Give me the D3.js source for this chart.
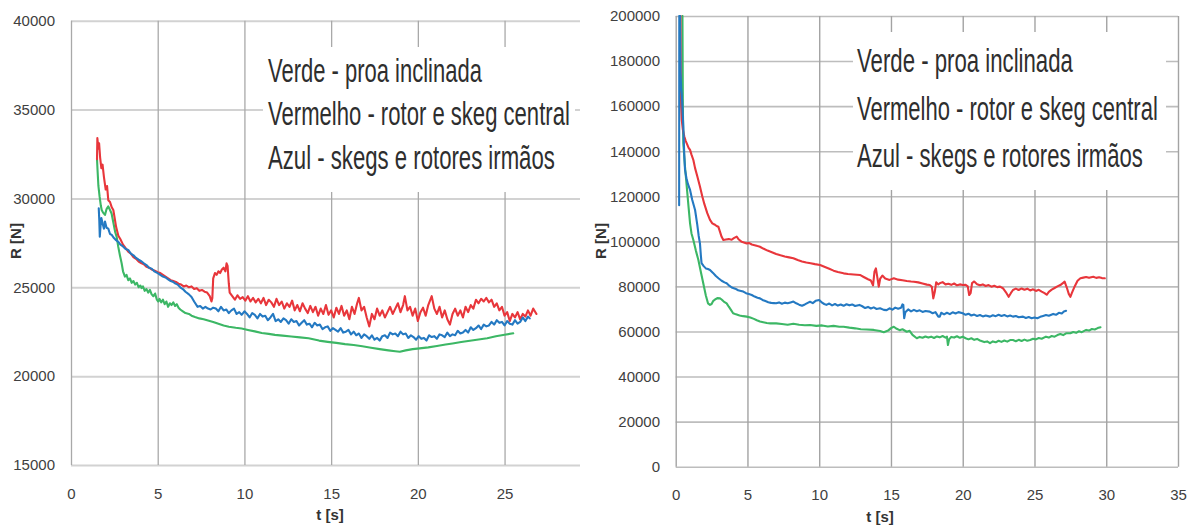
<!DOCTYPE html>
<html>
<head>
<meta charset="utf-8">
<script src="https://cdn.jsdelivr.net/npm/d3@7"></script>
<style>
  html, body { margin: 0; padding: 0; background: #fff; }
  svg { display: block; }
  text { font-family: "Liberation Sans", Arial, sans-serif; }
</style>
</head>
<body>
<svg id="chart" width="1192" height="529"></svg>
<script>
// ---------- tick values ----------
const leftXTicks = [0, 5, 10, 15, 20, 25];
const leftYTicks = [15000, 20000, 25000, 30000, 35000, 40000];
const rightXTicks = [0, 5, 10, 15, 20, 25, 30, 35];
const rightYTicks = [0, 20000, 40000, 60000, 80000, 100000, 120000, 140000, 160000, 180000, 200000];

// ---------- legend text ----------
const legendLines = [
  "Verde - proa inclinada",
  "Vermelho - rotor e skeg central",
  "Azul - skegs e rotores irmãos"
];
const xTitle = "t [s]";
const yTitle = "R [N]";

// ---------- left panel: resistance R [N] vs time t [s] ----------
const leftGreen = [
  [1.50,32200],[1.53,31600],[1.58,30700],[1.65,30100],[1.72,29600],[1.77,29350],[1.85,29200],[1.96,29070],
  [2.05,29400],[2.15,29550],[2.25,29350],[2.34,29150],[2.45,28600],[2.55,28100],[2.63,27850],[2.72,27300],
  [2.82,26800],[2.92,26350],[3.00,25900],[3.11,25600],[3.20,25700],[3.30,25400],[3.40,25500],[3.50,25250],
  [3.60,25350],[3.70,25150],[3.80,25250],[3.90,25000],[4.00,25100],[4.07,24950],[4.15,25050],[4.25,24800],
  [4.35,24900],[4.45,24700],[4.55,24850],[4.65,24600],[4.75,24500],[4.85,24650],[4.95,24300],[5.03,24200],
  [5.10,24350],[5.20,24150],[5.30,24300],[5.40,24050],[5.50,24200],[5.60,23900],[5.70,24100],[5.80,24000],
  [5.90,24150],[6.00,23950],[6.10,24050],[6.20,23850],[6.30,23750],[6.45,23650],[6.60,23550],[6.80,23500],
  [6.95,23400],[7.15,23330],[7.40,23250],[7.65,23200],[7.90,23130],[8.20,23050],[8.50,22950],[8.80,22850],
  [9.10,22780],[9.50,22720],[9.84,22680],[10.2,22600],[10.6,22520],[11.0,22430],[11.4,22380],[11.76,22320],
  [12.2,22280],[12.7,22230],[13.2,22180],[13.7,22130],[14.3,22000],[14.8,21930],[15.3,21870],[15.8,21800],
  [16.3,21750],[16.8,21680],[17.3,21600],[17.8,21520],[18.3,21450],[18.7,21400],[18.96,21370],[19.3,21450],
  [19.7,21520],[20.1,21560],[20.6,21620],[21.1,21700],[21.6,21780],[22.0,21840],[22.5,21920],[23.0,21990],
  [23.5,22060],[24.0,22130],[24.5,22240],[25.0,22330],[25.5,22410]
];

const leftRed = [
  [1.50,32200],[1.52,33400],[1.58,32800],[1.62,33100],[1.68,32300],[1.75,31700],[1.82,31900],[1.90,31200],
  [2.00,30500],[2.08,30700],[2.15,29900],[2.25,29800],[2.35,29500],[2.44,29350],[2.50,29000],[2.60,28400],
  [2.73,27900],[2.85,27700],[3.00,27400],[3.15,27200],[3.30,27000],[3.45,26900],[3.60,26700],[3.75,26600],
  [3.90,26450],[4.07,26350],[4.20,26300],[4.35,26150],[4.50,26100],[4.65,26000],[4.80,25950],[5.00,25850],
  [5.15,25800],[5.30,25700],[5.45,25600],[5.60,25500],[5.75,25400],[5.90,25350],[6.05,25300],[6.20,25200],
  [6.35,25150],[6.50,25050],[6.65,25100],[6.80,25000],[6.95,25050],[7.10,24900],[7.25,24950],[7.40,24800],
  [7.55,24850],[7.70,24750],[7.85,24700],[8.00,24500],[8.10,24200],[8.15,24400],[8.20,25500],[8.30,25800],
  [8.40,25700],[8.50,25900],[8.60,25800],[8.70,26000],[8.80,26100],[8.90,25900],[8.97,26350],[9.03,26200],
  [9.10,25200],[9.15,24700],[9.30,24500],[9.45,24300],[9.60,24550],[9.75,24350],[9.90,24450],[10.05,24250],
  [10.20,24500],[10.35,24200],[10.50,24400],[10.65,24150],[10.80,24350],[10.95,24100],[11.10,24400],[11.25,24000],
  [11.40,24300],[11.55,24150],[11.70,23900],[11.85,24350],[12.00,24000],[12.15,24200],[12.30,23800],[12.45,24100],
  [12.60,23900],[12.75,24250],[12.90,23700],[13.05,24000],[13.20,23650],[13.35,24100],[13.50,23800],[13.65,23550],
  [13.80,23950],[13.95,23600],[14.10,23900],[14.25,23400],[14.40,23800],[14.55,23500],[14.70,24000],[14.85,23450],
  [15.00,23700],[15.15,23300],[15.30,23850],[15.45,23500],[15.60,23950],[15.75,23400],[15.90,23700],[16.05,23200],
  [16.20,23900],[16.35,23500],[16.50,24100],[16.60,24400],[16.75,23700],[16.90,23900],[17.05,23300],[17.20,22800],
  [17.35,23500],[17.50,23200],[17.65,23800],[17.80,23400],[17.95,23700],[18.10,23300],[18.25,23600],[18.40,23900],
  [18.55,23500],[18.70,23800],[18.85,24100],[19.00,23600],[19.15,24000],[19.25,24500],[19.40,23700],[19.55,23900],
  [19.70,23400],[19.85,23800],[20.00,23100],[20.15,23600],[20.30,23850],[20.45,23400],[20.60,24000],[20.80,24500],
  [20.95,23800],[21.10,23500],[21.25,23900],[21.40,23300],[21.55,23700],[21.70,23200],[21.85,22900],[22.00,23500],
  [22.15,23800],[22.30,23400],[22.45,23700],[22.60,23300],[22.75,23900],[22.90,23600],[23.05,24000],[23.20,23800],
  [23.35,24300],[23.50,24100],[23.65,24350],[23.80,24200],[23.95,24400],[24.10,24150],[24.25,24300],[24.40,23900],
  [24.55,24100],[24.70,23700],[24.85,23900],[25.00,23400],[25.15,23600],[25.30,23100],[25.45,23500],[25.60,23300],
  [25.75,23600],[25.90,23200],[26.05,23500],[26.20,23350],[26.35,23700],[26.50,23400],[26.65,23800],[26.84,23500]
];

const leftBlue = [
  [1.60,29450],[1.63,28800],[1.66,27850],[1.70,28400],[1.75,28900],[1.82,28600],[1.90,28300],[1.96,28700],
  [2.05,28350],[2.15,28300],[2.25,28000],[2.35,27950],[2.45,27800],[2.60,27650],[2.73,27550],[2.85,27400],
  [3.00,27300],[3.15,27150],[3.30,27100],[3.45,26900],[3.60,26800],[3.75,26650],[3.90,26550],[4.07,26450],
  [4.20,26350],[4.35,26250],[4.50,26100],[4.65,26050],[4.80,25900],[5.00,25800],[5.15,25700],[5.30,25600],
  [5.45,25550],[5.60,25450],[5.75,25350],[5.90,25300],[6.00,25220],[6.15,25150],[6.30,25000],[6.45,24900],
  [6.60,24750],[6.80,24600],[6.95,24450],[7.10,24200],[7.30,23900],[7.45,23950],[7.60,23800],[7.75,23900],
  [7.90,23800],[8.05,23750],[8.20,23850],[8.35,23800],[8.50,23650],[8.65,23900],[8.80,23700],[8.95,23750],
  [9.10,23550],[9.25,23700],[9.40,23800],[9.55,23500],[9.70,23600],[9.84,23450],[10.00,23650],[10.15,23500],
  [10.30,23300],[10.45,23550],[10.60,23450],[10.75,23250],[10.90,23500],[11.05,23350],[11.20,23400],[11.35,23150],
  [11.50,23300],[11.65,23500],[11.80,23100],[11.95,23200],[12.10,23050],[12.25,23250],[12.40,23150],[12.55,22950],
  [12.70,23200],[12.85,23050],[13.00,23100],[13.15,22850],[13.30,23000],[13.45,23150],[13.60,22900],[13.75,22950],
  [13.90,22750],[14.05,23000],[14.20,22850],[14.35,22900],[14.50,22650],[14.65,22750],[14.80,22800],[14.95,22550],
  [15.10,22700],[15.25,22600],[15.40,22500],[15.55,22700],[15.70,22450],[15.85,22500],[16.00,22600],[16.15,22350],
  [16.30,22500],[16.45,22300],[16.60,22400],[16.75,22150],[16.90,22350],[17.05,22250],[17.20,22100],[17.35,22300],
  [17.50,22050],[17.65,22150],[17.80,22000],[17.95,22250],[18.10,22300],[18.25,22150],[18.40,22450],[18.55,22350],
  [18.70,22400],[18.85,22250],[19.00,22500],[19.15,22350],[19.30,22400],[19.45,22150],[19.60,22300],[19.75,22200],
  [19.90,22050],[20.05,22250],[20.20,22100],[20.35,22150],[20.50,22000],[20.65,22300],[20.80,22200],[20.95,22250],
  [21.10,22100],[21.25,22350],[21.40,22300],[21.55,22200],[21.70,22450],[21.85,22250],[22.00,22350],[22.15,22300],
  [22.30,22550],[22.45,22400],[22.60,22450],[22.75,22600],[22.90,22450],[23.05,22750],[23.20,22600],[23.35,22700],
  [23.50,22850],[23.65,22650],[23.80,22900],[23.95,22800],[24.10,22850],[24.25,23050],[24.40,22900],[24.55,23150],
  [24.70,23000],[24.85,23050],[25.00,22850],[25.15,23100],[25.30,22950],[25.45,22900],[25.60,23150],[25.75,22950],
  [25.90,23050],[26.05,23300],[26.20,23100],[26.35,23350],[26.45,23250]
];

// ---------- right panel ----------
const rightGreen = [
  [0.47,200000],[0.50,160000],[0.53,143500],[0.65,133000],[0.77,124300],[0.90,115000],[1.00,108000],[1.10,103500],
  [1.23,100600],[1.40,96000],[1.58,91700],[1.75,86500],[1.92,81400],[2.10,76000],[2.25,72500],[2.39,71800],
  [2.50,72200],[2.62,73600],[2.74,74200],[2.90,74800],[3.09,74700],[3.20,74200],[3.35,73300],[3.55,72500],
  [3.70,71000],[3.85,69600],[4.00,68100],[4.20,67600],[4.45,67100],[4.70,66800],[4.95,66600],[5.20,66200],
  [5.45,65600],[5.65,65000],[5.87,64400],[6.10,64100],[6.35,63800],[6.60,63600],[7.00,63600],[7.40,63300],
  [7.80,63000],[8.20,63400],[8.60,63000],[9.00,62800],[9.36,62900],[9.80,62500],[10.2,62700],[10.6,62200],
  [11.0,62500],[11.4,62100],[11.7,62100],[12.1,61700],[12.5,61400],[12.9,61000],[13.3,60900],[13.8,60700],
  [14.24,60200],[14.5,59700],[14.8,60400],[15.0,61500],[15.2,62100],[15.4,61200],[15.6,60600],[15.8,61000],
  [16.1,59900],[16.3,60300],[16.5,58500],[16.8,57000],[17.0,57600],[17.2,57200],[17.4,57800],[17.6,57300],
  [17.8,57700],[18.0,57100],[18.2,57800],[18.4,57400],[18.6,58000],[18.8,57300],[18.9,57700],[18.97,54000],
  [19.05,56500],[19.2,57600],[19.4,57300],[19.6,57900],[19.8,57200],[20.0,57700],[20.2,57000],[20.4,56500],
  [20.6,57000],[20.8,56300],[21.0,56700],[21.2,56000],[21.5,55300],[21.7,55600],[21.9,54800],[22.1,55600],
  [22.3,55200],[22.5,55900],[22.7,55400],[22.9,56000],[23.1,55500],[23.3,56200],[23.5,56200],[23.7,55700],
  [23.9,56300],[24.1,55800],[24.3,56400],[24.5,55900],[24.7,56200],[24.9,56800],[25.1,56500],[25.3,57100],
  [25.5,56800],[25.8,57700],[26.0,57300],[26.2,58000],[26.4,57700],[26.6,58400],[26.8,58900],[27.0,58400],
  [27.2,59200],[27.5,59200],[27.7,59800],[27.9,59400],[28.1,60100],[28.3,59700],[28.6,60700],[28.8,60400],
  [29.0,61100],[29.2,60900],[29.4,61500],[29.6,61900]
];

const rightRed = [
  [0.33,200000],[0.35,175000],[0.38,160000],[0.42,153900],[0.50,149500],[0.60,146500],[0.70,144500],[0.77,143500],
  [0.90,141500],[1.00,140600],[1.10,138500],[1.23,136100],[1.35,132500],[1.50,129000],[1.69,124300],[1.85,120000],
  [2.00,116500],[2.20,112500],[2.39,109500],[2.55,108000],[2.70,107500],[2.85,106800],[2.97,106500],[3.10,104000],
  [3.20,102000],[3.32,100600],[3.50,100800],[3.70,101000],[3.90,100700],[4.05,101400],[4.25,102100],[4.40,100800],
  [4.60,99800],[4.80,99400],[4.95,99100],[5.10,99300],[5.30,98600],[5.50,98300],[5.70,97900],[5.87,97600],
  [6.10,96800],[6.40,95900],[6.70,95200],[7.00,94400],[7.30,93800],[7.60,93300],[7.90,92900],[8.20,92500],
  [8.50,91700],[8.80,91100],[9.10,90600],[9.40,90300],[9.70,89900],[10.06,89500],[10.4,88600],[10.7,87800],
  [11.0,87000],[11.3,86400],[11.7,85800],[12.0,85500],[12.4,85300],[12.84,85100],[13.1,84200],[13.4,83200],
  [13.6,82600],[13.75,80500],[13.85,86500],[13.95,88000],[14.05,84000],[14.15,79900],[14.25,83500],[14.4,84800],
  [14.6,83500],[14.9,82900],[15.2,83600],[15.5,83000],[15.8,82700],[16.1,82400],[16.4,82200],[16.6,82100],
  [16.9,81800],[17.2,81300],[17.5,80800],[17.7,80600],[17.85,79800],[17.95,74700],[18.05,77500],[18.15,81800],
  [18.3,80900],[18.4,81400],[18.6,81900],[18.8,80900],[19.0,81200],[19.2,80700],[19.4,81300],[19.6,80500],
  [19.8,80900],[20.0,80600],[20.2,80700],[20.35,80000],[20.45,76200],[20.55,77000],[20.65,81500],[20.8,82200],
  [21.0,81000],[21.2,80500],[21.4,80900],[21.6,80200],[21.8,80600],[22.0,79900],[22.2,80300],[22.4,79700],
  [22.6,79900],[22.8,79200],[23.0,77500],[23.2,75400],[23.35,77000],[23.5,78400],[23.7,79000],[23.9,78400],
  [24.1,79100],[24.3,78500],[24.5,79000],[24.7,78200],[24.9,78700],[25.1,78000],[25.3,78500],[25.5,77700],
  [25.7,77000],[25.85,76300],[26.0,77600],[26.2,78600],[26.4,79300],[26.6,80000],[26.8,80600],[27.0,81600],
  [27.1,82100],[27.25,79500],[27.4,76500],[27.5,75400],[27.6,77000],[27.8,80000],[28.0,82500],[28.2,83600],
  [28.4,83900],[28.6,84200],[28.8,83800],[29.1,84300],[29.3,83800],[29.5,84100],[29.7,83700],[29.9,83600]
];

const rightBlue = [
  [0.24,116000],[0.25,200000],[0.30,200000],[0.34,175000],[0.38,168000],[0.42,165700],[0.48,158000],[0.53,150900],
  [0.60,138000],[0.65,131700],[0.75,128000],[0.85,125500],[1.00,122800],[1.15,118500],[1.35,113900],[1.50,107500],
  [1.60,102500],[1.69,99100],[1.75,94000],[1.80,90300],[1.95,89000],[2.10,88000],[2.25,87700],[2.39,87300],
  [2.60,86000],[2.80,84600],[3.00,83500],[3.20,82500],[3.40,81800],[3.55,81400],[3.75,80200],[3.95,79400],
  [4.15,79000],[4.35,78300],[4.55,78000],[4.71,77700],[4.90,77000],[5.10,76600],[5.30,76200],[5.50,75500],
  [5.70,75000],[5.87,74700],[6.05,74000],[6.25,73500],[6.45,73000],[6.65,72700],[6.85,72600],[7.00,72500],
  [7.20,72900],[7.40,72300],[7.60,72800],[7.80,72500],[8.00,72900],[8.20,73300],[8.40,72500],[8.60,71900],
  [8.80,71400],[9.00,72000],[9.20,72700],[9.36,73200],[9.55,72600],[9.75,73600],[10.0,74000],[10.2,72800],
  [10.35,72200],[10.5,71800],[10.7,72400],[10.9,71600],[11.1,72200],[11.3,71500],[11.5,72000],[11.7,71400],
  [11.9,72100],[12.1,71600],[12.3,72000],[12.5,71300],[12.8,71800],[13.0,71200],[13.2,70400],[13.4,70900],
  [13.6,70200],[13.8,70700],[14.0,70000],[14.24,70300],[14.5,69600],[14.7,69500],[14.9,70300],[15.1,69700],
  [15.3,70600],[15.5,70100],[15.7,70500],[15.8,72000],[15.86,71800],[15.92,65900],[16.0,68500],[16.2,69800],
  [16.4,68900],[16.6,69600],[16.8,69000],[17.0,69400],[17.2,68700],[17.4,69100],[17.7,68800],[17.9,68100],
  [18.1,68600],[18.3,66600],[18.4,66600],[18.5,68300],[18.7,67600],[18.9,68300],[19.1,67700],[19.3,68500],
  [19.5,68000],[19.7,68600],[20.0,68100],[20.2,67400],[20.4,67900],[20.6,67100],[20.8,67500],[21.0,66900],
  [21.2,67300],[21.4,66700],[21.6,67100],[21.9,66600],[22.1,67200],[22.3,66800],[22.5,67400],[22.7,66900],
  [22.9,67300],[23.1,66700],[23.3,67100],[23.5,66600],[23.7,66900],[23.9,66300],[24.2,66600],[24.4,66000],
  [24.6,66400],[24.8,65900],[25.0,66200],[25.2,65900],[25.4,66500],[25.6,66900],[25.8,67300],[26.0,67000],
  [26.3,67800],[26.5,67400],[26.7,68300],[26.9,68000],[27.05,68900],[27.2,69200]
];

// ---------- colours ----------
const GREEN = "#3cb765";
const RED = "#e8363b";
const BLUE = "#2479c2";

const svg = d3.select("#chart");

function drawPanel(cfg) {
  const g = svg.append("g");
  const x = d3.scaleLinear().domain(cfg.xDomain).range([cfg.left, cfg.right]);
  const y = d3.scaleLinear().domain(cfg.yDomain).range([cfg.bottom, cfg.top]);
  const w = cfg.right - cfg.left, h = cfg.bottom - cfg.top;

  // horizontal grid
  const hg = g.append("g").attr("transform", `translate(${cfg.left},0)`)
    .call(d3.axisLeft(y).tickValues(cfg.yTicks).tickSize(-w).tickFormat(""));
  hg.select(".domain").remove();
  hg.selectAll("line").attr("stroke", cfg.hColor).attr("stroke-width", cfg.hWidth);

  // vertical grid
  const vg = g.append("g").attr("transform", `translate(0,${cfg.bottom})`)
    .call(d3.axisBottom(x).tickValues(cfg.xTicks).tickSize(-h).tickFormat(""));
  vg.select(".domain").remove();
  vg.selectAll("line").attr("stroke", cfg.vColor).attr("stroke-width", cfg.vWidth);

  // legend box hides the grid behind the text
  g.append("rect")
    .attr("x", cfg.legend.x).attr("y", cfg.legend.y)
    .attr("width", cfg.legend.w).attr("height", cfg.legend.h)
    .attr("fill", "#fff");

  // tick labels
  const ya = g.append("g").attr("transform", `translate(${cfg.left},0)`)
    .call(d3.axisLeft(y).tickValues(cfg.yTicks).tickSize(0).tickPadding(cfg.yPad).tickFormat(d3.format("d")));
  ya.select(".domain").remove();
  ya.selectAll("text").attr("font-size", 15).attr("fill", "#404040")
    .style("font-family", '"Liberation Sans", Arial, sans-serif');

  const xa = g.append("g").attr("transform", `translate(0,${cfg.bottom})`)
    .call(d3.axisBottom(x).tickValues(cfg.xTicks).tickSize(0).tickPadding(cfg.xPad).tickFormat(d3.format("d")));
  xa.select(".domain").remove();
  xa.selectAll("text").attr("font-size", 15).attr("fill", "#404040")
    .style("font-family", '"Liberation Sans", Arial, sans-serif');

  // axis titles
  g.append("text")
    .attr("transform", `translate(${cfg.yTitle[0]},${cfg.yTitle[1]}) rotate(-90)`)
    .attr("text-anchor", "middle").attr("dy", "0.35em")
    .attr("font-size", 15).attr("font-weight", "bold").attr("fill", "#333")
    .text(yTitle);
  g.append("text")
    .attr("x", cfg.xTitle[0]).attr("y", cfg.xTitle[1])
    .attr("text-anchor", "middle").attr("dy", "0.35em")
    .attr("font-size", 15).attr("font-weight", "bold").attr("fill", "#333")
    .text(xTitle);

  // series
  const clipId = "clip-" + cfg.id;
  svg.append("defs").append("clipPath").attr("id", clipId)
    .append("rect").attr("x", cfg.left).attr("y", cfg.top - 1).attr("width", w).attr("height", h + 2);
  const line = d3.line().x(d => x(d[0])).y(d => y(d[1]));
  const lines = g.append("g").attr("clip-path", `url(#${clipId})`);
  cfg.series.forEach(s => {
    lines.append("path").datum(s.data)
      .attr("d", line)
      .attr("fill", "none")
      .attr("stroke", s.color)
      .attr("stroke-width", 2.1)
      .attr("stroke-linejoin", "round")
      .attr("stroke-linecap", "round");
  });

  // legend text, tall and condensed: each line is squeezed horizontally to its width
  legendLines.forEach((t, i) => {
    const txt = g.append("text")
      .attr("x", 0).attr("y", 0)
      .attr("font-size", 33)
      .attr("fill", "#2e2e2e")
      .text(t);
    const natural = txt.node().getComputedTextLength();
    const sx = cfg.legendText.widths[i] / natural;
    txt.attr("transform",
      `translate(${cfg.legendText.x},${cfg.legendText.baselines[i]}) scale(${sx},1)`);
  });
}

drawPanel({
  id: "left",
  left: 71, right: 580, top: 20.7, bottom: 465,
  xDomain: [0, 29.35], yDomain: [15000, 40000],
  xTicks: leftXTicks, yTicks: leftYTicks,
  hColor: "#d2d2d2", hWidth: 2, vColor: "#a9a9a9", vWidth: 1.3,
  yPad: 16, xPad: 23,
  yTitle: [16, 241], xTitle: [330, 515],
  legend: { x: 263, y: 47, w: 312, h: 145 },
  legendText: { x: 268, baselines: [82, 125, 169], widths: [214, 302, 287] },
  series: [
    { data: leftGreen, color: GREEN },
    { data: leftRed, color: RED },
    { data: leftBlue, color: BLUE }
  ]
});

drawPanel({
  id: "right",
  left: 675.7, right: 1178, top: 16, bottom: 466.7,
  xDomain: [0, 35], yDomain: [0, 200000],
  xTicks: rightXTicks, yTicks: rightYTicks,
  hColor: "#bdbdbd", hWidth: 1.6, vColor: "#a3a3a3", vWidth: 1.4,
  yPad: 15.7, xPad: 23,
  yTitle: [601, 241], xTitle: [880, 517],
  legend: { x: 853, y: 32, w: 313, h: 158 },
  legendText: { x: 857, baselines: [72, 120, 167], widths: [216, 301, 286] },
  series: [
    { data: rightGreen, color: GREEN },
    { data: rightRed, color: RED },
    { data: rightBlue, color: BLUE }
  ]
});
</script>
</body>
</html>
